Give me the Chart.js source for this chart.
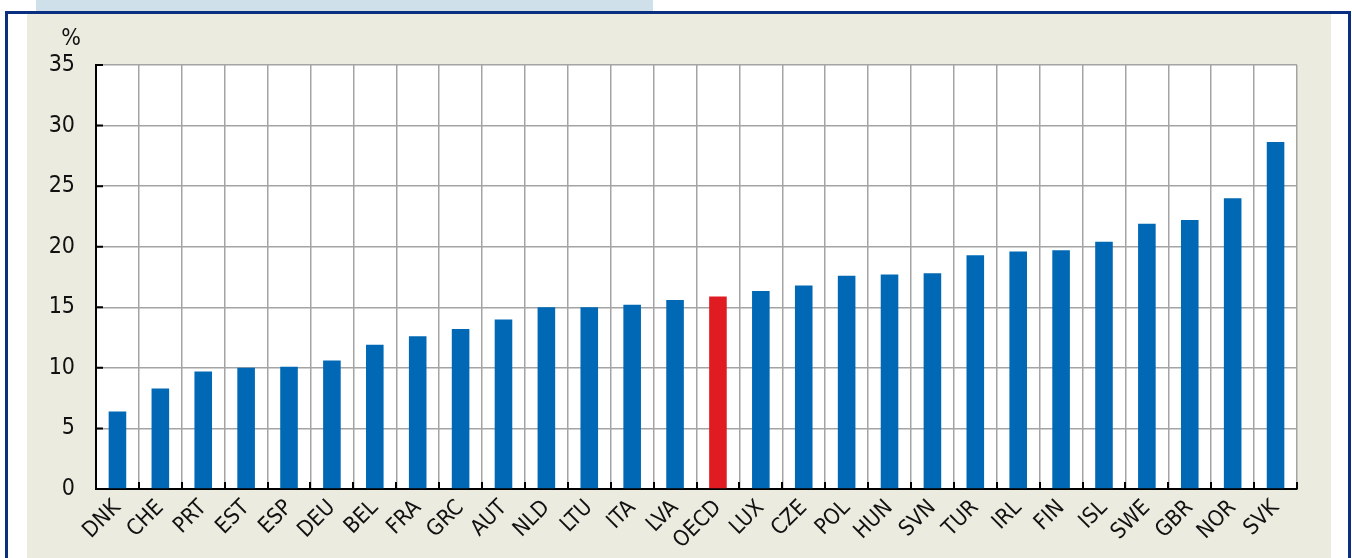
<!DOCTYPE html>
<html>
<head>
<meta charset="utf-8">
<script src="https://cdn.jsdelivr.net/npm/chart.js@4/dist/chart.umd.min.js"></script>
<style>
  html, body { margin: 0; padding: 0; background: #fff; }
  #wrap { width: 1352px; height: 558px; }
</style>
</head>
<body>
<div id="wrap"><canvas id="chart" width="1352" height="558"></canvas></div>
<script>
const countries = ['DNK','CHE','PRT','EST','ESP','DEU','BEL','FRA','GRC','AUT','NLD','LTU','ITA','LVA','OECD',
                   'LUX','CZE','POL','HUN','SVN','TUR','IRL','FIN','ISL','SWE','GBR','NOR','SVK'];
const shares = [6.4, 8.3, 9.7, 10.0, 10.1, 10.6, 11.9, 12.6, 13.2, 14.0, 15.0, 15.0, 15.2, 15.6, 15.9,
                16.35, 16.8, 17.6, 17.7, 17.8, 19.3, 19.6, 19.7, 20.4, 21.9, 22.2, 24.0, 28.65];
const yTicks = [0, 5, 10, 15, 20, 25, 30, 35];
const unitLabel = '%';

const FONT = "'Liberation Sans Narrow', 'DejaVu Sans Condensed', 'Liberation Sans', Arial, sans-serif";
const BLUE = '#0068b5';
const RED = '#e01c22';
const GRID = '#a4a4a4';

// frame, beige panel, white plot area and the little % on top of the axis
const framePlugin = {
  id: 'frame',
  beforeDraw(chart) {
    const ctx = chart.ctx;
    const a = chart.chartArea;
    ctx.save();
    ctx.fillStyle = '#ffffff';
    ctx.fillRect(0, 0, chart.width, chart.height);
    ctx.fillStyle = '#cfe0eb';
    ctx.fillRect(36, 0, 617, 11);
    ctx.fillStyle = '#ecebe0';
    ctx.fillRect(27, 14, 1304, chart.height - 14);
    ctx.strokeStyle = '#0b2f80';
    ctx.lineWidth = 3;
    ctx.beginPath();
    ctx.moveTo(6.5, chart.height + 5);
    ctx.lineTo(6.5, 12.5);
    ctx.lineTo(1349.5, 12.5);
    ctx.lineTo(1349.5, chart.height + 5);
    ctx.stroke();
    ctx.fillStyle = '#ffffff';
    ctx.fillRect(a.left, a.top, a.right - a.left, a.bottom - a.top);
    ctx.restore();
  },
  afterDraw(chart) {
    const ctx = chart.ctx;
    const x = chart.scales.x, y = chart.scales.y;
    ctx.save();
    // inward tick marks
    ctx.strokeStyle = '#000';
    ctx.lineWidth = 2;
    const n = chart.data.labels.length;
    const step = (x.right - x.left) / n;
    ctx.beginPath();
    for (let i = 1; i <= n; i++) {
      const px = Math.round(x.left + i * step);
      ctx.moveTo(px, y.bottom);
      ctx.lineTo(px, y.bottom - 7);
    }
    yTicks.forEach(v => {
      const py = y.getPixelForValue(v);
      ctx.moveTo(x.left, py);
      ctx.lineTo(x.left + 7, py);
    });
    ctx.stroke();
    ctx.fillStyle = '#111';
    ctx.font = '23px ' + FONT;
    ctx.textAlign = 'center';
    ctx.textBaseline = 'middle';
    ctx.fillText(unitLabel, 71, 39);
    ctx.restore();
  }
};

new Chart(document.getElementById('chart'), {
  type: 'bar',
  data: {
    labels: countries,
    datasets: [{
      data: shares,
      backgroundColor: countries.map(c => c === 'OECD' ? RED : BLUE),
      borderWidth: 0,
      barPercentage: 0.41,
      categoryPercentage: 1.0
    }]
  },
  options: {
    responsive: false,
    animation: false,
    layout: { padding: { left: 0, right: 55, top: 65, bottom: 0 } },
    plugins: { legend: { display: false }, tooltip: { enabled: false } },
    scales: {
      x: {
        offset: true,
        grid: { color: GRID, lineWidth: 1.5, offset: true, drawTicks: false },
        border: { color: '#000', width: 2 },
        ticks: {
          autoSkip: false, maxRotation: 45, minRotation: 45, padding: 6,
          color: '#111', font: { family: FONT, size: 22 }
        },
        afterFit(scale) { scale.height = 69; }
      },
      y: {
        min: 0, max: 35,
        grid: { color: GRID, lineWidth: 1.5, drawTicks: false },
        border: { color: '#000', width: 2 },
        ticks: {
          stepSize: 5, padding: 21,
          color: '#111', font: { family: FONT, size: 23 }
        },
        afterFit(scale) { scale.width = 96; }
      }
    }
  },
  plugins: [framePlugin]
});
</script>
</body>
</html>
